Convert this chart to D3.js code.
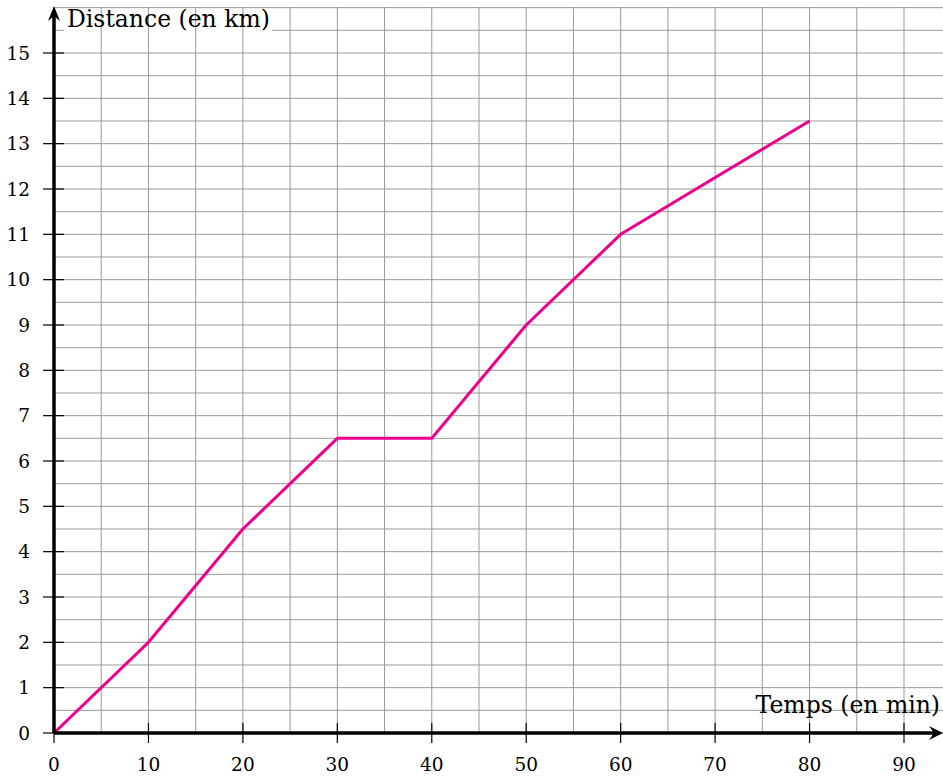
<!DOCTYPE html>
<html>
<head>
<meta charset="utf-8">
<script src="https://cdn.jsdelivr.net/npm/d3@7"></script>
<style>
  body { margin: 0; background: #fff; }
  text { font-family: "DejaVu Serif", "Liberation Serif", serif; }
</style>
</head>
<body>
<div id="chart"></div>
<script>
// temps (min) et distance (km)
const temps = [0, 10, 20, 30, 40, 50, 60, 80];
const distance = [0, 2, 4.5, 6.5, 6.5, 9, 11, 13.5];
const xTicks = [0, 10, 20, 30, 40, 50, 60, 70, 80, 90];
const yTicks = [0, 1, 2, 3, 4, 5, 6, 7, 8, 9, 10, 11, 12, 13, 14, 15];

const width = 943, height = 776;

const x = d3.scaleLinear().domain([0, 90]).range([54, 904]);
const y = d3.scaleLinear().domain([0, 15]).range([733, 53]);

const xMax = x.invert(943), yMax = y.invert(7);

const svg = d3.select("#chart").append("svg")
    .attr("width", width)
    .attr("height", height);

// horizontal grid (every 0.5 km)
const hLines = d3.range(0, yMax + 0.01, 0.5);
svg.append("g")
    .attr("stroke", "#999")
    .attr("stroke-width", 1)
  .selectAll("line")
  .data(hLines)
  .join("line")
    .attr("x1", x(0))
    .attr("x2", 943)
    .attr("y1", d => y(d))
    .attr("y2", d => y(d));

// white box behind the y label
svg.append("rect")
    .attr("x", 64).attr("y", 10)
    .attr("width", 208).attr("height", 24)
    .attr("fill", "#fff");

// vertical grid (every 5 min)
const vLines = d3.range(0, xMax, 5);
svg.append("g")
    .attr("stroke", "#999")
    .attr("stroke-width", 1)
  .selectAll("line")
  .data(vLines)
  .join("line")
    .attr("x1", d => x(d))
    .attr("x2", d => x(d))
    .attr("y1", y(0))
    .attr("y2", 7);

// courbe
const line = d3.line()
    .x(i => x(temps[i]))
    .y(i => y(distance[i]));

svg.append("path")
    .datum(d3.range(temps.length))
    .attr("fill", "none")
    .attr("stroke", "#ec008c")
    .attr("stroke-width", 3)
    .attr("stroke-linejoin", "round")
    .attr("d", line);

// axes
svg.append("line")
    .attr("x1", x(0)).attr("x2", 938)
    .attr("y1", y(0)).attr("y2", y(0))
    .attr("stroke", "#000").attr("stroke-width", 3.5);
svg.append("line")
    .attr("x1", x(0)).attr("x2", x(0))
    .attr("y1", y(0)).attr("y2", 12)
    .attr("stroke", "#000").attr("stroke-width", 3.5);

// flèches
svg.append("path")
    .attr("d", `M943,${y(0)} L929,${y(0) - 7} L934,${y(0)} L929,${y(0) + 7} Z`)
    .attr("fill", "#000");
svg.append("path")
    .attr("d", `M${x(0)},6 L${x(0) - 6},21 L${x(0)},16 L${x(0) + 6},21 Z`)
    .attr("fill", "#000");

// graduations
svg.append("g")
  .selectAll("line")
  .data(yTicks)
  .join("line")
    .attr("x1", x(0) - 11).attr("x2", x(0) + 10)
    .attr("y1", d => y(d)).attr("y2", d => y(d))
    .attr("stroke", "#000").attr("stroke-width", 1.2);

svg.append("g")
  .selectAll("line")
  .data(xTicks)
  .join("line")
    .attr("x1", d => x(d)).attr("x2", d => x(d))
    .attr("y1", y(0) - 10).attr("y2", y(0) + 10)
    .attr("stroke", "#000").attr("stroke-width", 1.2);

svg.append("g")
    .attr("font-size", 18.5)
    .attr("text-anchor", "end")
  .selectAll("text")
  .data(yTicks)
  .join("text")
    .attr("x", 30)
    .attr("y", d => y(d))
    .attr("dy", "0.36em")
    .text(d => d);

svg.append("g")
    .attr("font-size", 18.5)
    .attr("text-anchor", "middle")
  .selectAll("text")
  .data(xTicks)
  .join("text")
    .attr("x", d => x(d))
    .attr("y", 771)
    .text(d => d);

// titres
svg.append("text")
    .attr("x", 67).attr("y", 27)
    .attr("font-size", 23.5)
    .text("Distance (en km)");

svg.append("text")
    .attr("x", 940).attr("y", 713)
    .attr("text-anchor", "end")
    .attr("font-size", 23.5)
    .text("Temps (en min)");
</script>
</body>
</html>
